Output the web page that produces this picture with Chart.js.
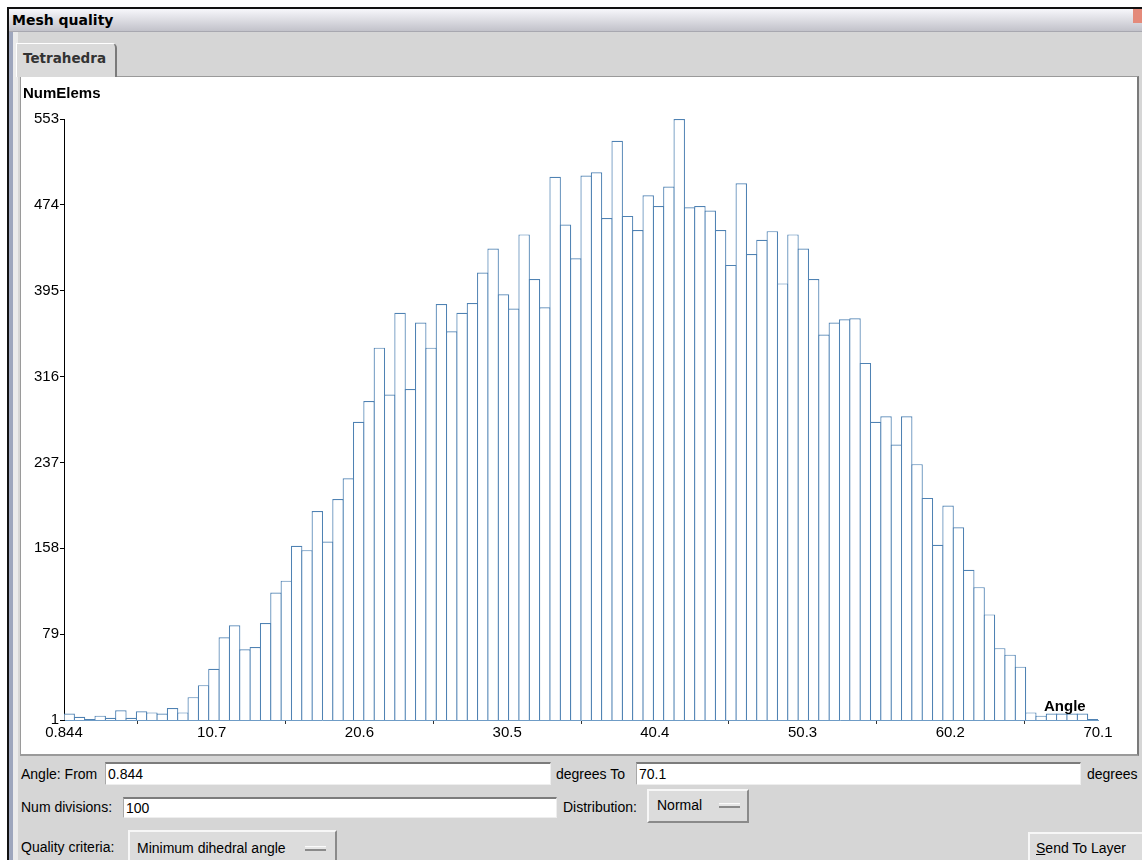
<!DOCTYPE html>
<html>
<head>
<meta charset="utf-8">
<title>Mesh quality</title>
<script src="https://cdn.jsdelivr.net/npm/chart.js@4.4.0/dist/chart.umd.min.js"></script>
<style>
  html, body { margin:0; padding:0; width:1142px; height:860px; overflow:hidden; background:#fff;
    font-family:"Liberation Sans", Arial, sans-serif; font-size:14px; color:#000; }
  .abs { position:absolute; box-sizing:border-box; }
  #frame { left:7px; top:7px; width:1140px; height:860px; background:#d6d6d6;
    border-left:2px solid #111; border-top:2px solid #111; }
  #titlebar { left:9px; top:9px; width:1133px; height:23px;
    background:linear-gradient(#f7f7fb, #c2c2ca); border-bottom:1px solid #a8a8b0;
    font-family:"DejaVu Sans", sans-serif; font-weight:bold; font-size:14px; line-height:23px; padding-left:3px; }
  #close { left:1133px; top:9px; width:9px; height:14px; background:#e48a7a; }
  #sideA { left:9px; top:32px; width:4px; height:828px; background:#9ea6bd; }
  #sideB { left:13px; top:32px; width:5px; height:828px; background:#ebebeb; }
  #tab { left:16px; top:43px; width:101px; height:34px; background:#dadada; z-index:2;
    border-left:1px solid #fff; border-top:1px solid #fff; border-right:2px solid #7a7a7a;
    border-top-right-radius:5px; font-family:"DejaVu Sans", sans-serif; font-weight:bold;
    font-size:13.5px; line-height:28px; padding-left:6px; color:#333; }
  #panel { left:20px; top:76px; width:1119px; height:680px; background:#fff;
    border-top:1px solid #9a9a9a; border-left:1px solid #9a9a9a; border-right:2px solid #7a7a7a; border-bottom:2px solid #9a9a9a; }
  #chart { left:22px; top:77px; }
  .bold { font-weight:bold; font-size:15px; }
  .lbl { line-height:18px; white-space:nowrap; }
  .inp { background:#fff; border-top:2px solid #7c7c7c; border-left:1px solid #a8a8a8;
    border-right:1px solid #eee; border-bottom:1px solid #eee; padding-left:2px; line-height:20px; white-space:nowrap; }
  .btn { background:#dcdcdc; border-top:2px solid #f7f7f7; border-left:2px solid #f7f7f7;
    border-right:2px solid #8a8a8a; border-bottom:2px solid #8a8a8a; white-space:nowrap; }
  .ind { position:absolute; width:21px; height:5px; background:#e6e6e6;
    border-top:1px solid #fafafa; border-bottom:2px solid #8a8a8a; box-sizing:border-box; }
</style>
</head>
<body>
<div id="frame" class="abs"></div>
<div id="titlebar" class="abs">Mesh quality</div>
<div id="close" class="abs"></div>
<div id="sideA" class="abs"></div>
<div id="sideB" class="abs"></div>
<div id="tab" class="abs">Tetrahedra</div>
<div id="panel" class="abs"></div>
<canvas id="chart" class="abs" width="1115" height="677"></canvas>
<div class="abs lbl bold" style="left:23px; top:84px;">NumElems</div>
<div class="abs lbl bold" style="left:1044px; top:697px;">Angle</div>

<div class="abs lbl" style="left:21px; top:765px;">Angle: From</div>
<div class="abs inp" style="left:105px; top:762px; width:446px; height:23px;">0.844</div>
<div class="abs lbl" style="left:556px; top:765px;">degrees To</div>
<div class="abs inp" style="left:636px; top:762px; width:445px; height:23px;">70.1</div>
<div class="abs lbl" style="left:1087px; top:765px;">degrees</div>

<div class="abs lbl" style="left:21px; top:798px;">Num divisions:</div>
<div class="abs inp" style="left:123px; top:797px; width:434px; height:21px; line-height:18px;">100</div>
<div class="abs lbl" style="left:563px; top:798px;">Distribution:</div>
<div class="abs btn" style="left:647px; top:789px; width:102px; height:34px; padding:6px 0 0 8px;">Normal<span class="ind" style="left:70px; top:12px;"></span></div>

<div class="abs lbl" style="left:21px; top:838px;">Quality criteria:</div>
<div class="abs btn" style="left:128px; top:830px; width:209px; height:40px; padding:8px 0 0 7px;">Minimum dihedral angle<span class="ind" style="left:175px; top:14px;"></span></div>
<div class="abs btn" style="left:1028px; top:832px; width:116px; height:35px; padding:6px 0 0 6px;"><u>S</u>end To Layer</div>

<script>
  // histogram of minimum dihedral angle, 100 bins
  const angleFrom = 0.844;
  const angleTo = 70.1;
  const numDivisions = 100;
  const counts = [
    7, 4, 2, 5, 3, 10, 3, 9, 8, 7,
    12, 8, 22, 33, 48, 77, 88, 66, 68, 90,
    118, 129, 161, 157, 193, 165, 204, 223, 275, 294,
    343, 300, 375, 305, 366, 343, 383, 358, 375, 384,
    412, 434, 392, 379, 447, 406, 380, 500, 456, 425,
    501, 504, 462, 533, 464, 451, 483, 473, 491, 553,
    472, 473, 469, 451, 419, 494, 429, 442, 450, 402,
    447, 434, 406, 355, 366, 369, 370, 329, 275, 280,
    254, 280, 236, 205, 162, 198, 178, 139, 123, 98,
    67, 61, 50, 8, 5, 7, 7, 7, 7, 2
  ];
  const xTickLabels = ['0.844', '10.7', '20.6', '30.5', '40.4', '50.3', '60.2', '70.1'];
  const yTickLabels = ['1', '79', '158', '237', '316', '395', '474', '553'];
  const yMin = 1;
  const yMax = 553;

  const binWidth = (angleTo - angleFrom) / numDivisions;
  const barData = counts.map((c, i) => ({ x: angleFrom + (i + 0.5) * binWidth, y: c }));

  function evenTicks(min, max, n) {
    const out = [];
    for (let k = 0; k < n; k++) out.push({ value: min + k * (max - min) / (n - 1) });
    return out;
  }

  const tickFont = { family: "Liberation Sans", size: 15 };

  new Chart(document.getElementById('chart').getContext('2d'), {
    type: 'bar',
    data: {
      datasets: [{
        data: barData,
        backgroundColor: '#ffffff',
        borderColor: '#4f82b3',
        borderWidth: 1.2,
        borderSkipped: 'start',
        barPercentage: 1.11,
        categoryPercentage: 1,
        inflateAmount: 0
      }]
    },
    options: {
      responsive: false,
      animation: false,
      devicePixelRatio: 1,
      layout: { padding: { left: 0, top: 42, right: 39, bottom: 0 } },
      plugins: { legend: { display: false }, tooltip: { enabled: false } },
      scales: {
        x: {
          type: 'linear',
          min: angleFrom,
          max: angleTo,
          offset: false,
          afterBuildTicks: s => { s.ticks = evenTicks(angleFrom, angleTo, xTickLabels.length); },
          afterFit: s => { s.height = 34; },
          grid: { drawOnChartArea: false, drawTicks: true, tickLength: 4, tickColor: '#333' },
          border: { display: true, color: '#6f9cc6', width: 1 },
          ticks: {
            autoSkip: false, maxRotation: 0, minRotation: 0, padding: 0,
            color: '#000', font: tickFont,
            callback: (v, i) => xTickLabels[i]
          }
        },
        y: {
          type: 'linear',
          min: yMin,
          max: yMax,
          afterBuildTicks: s => { s.ticks = evenTicks(yMin, yMax, yTickLabels.length); },
          afterFit: s => { s.width = 42; },
          grid: { drawOnChartArea: false, drawTicks: true, tickLength: 4, tickColor: '#000' },
          border: { display: true, color: '#000', width: 1 },
          ticks: {
            autoSkip: false, padding: 1,
            color: '#000', font: tickFont,
            callback: (v, i) => yTickLabels[i]
          }
        }
      }
    }
  });
</script>
</body>
</html>
